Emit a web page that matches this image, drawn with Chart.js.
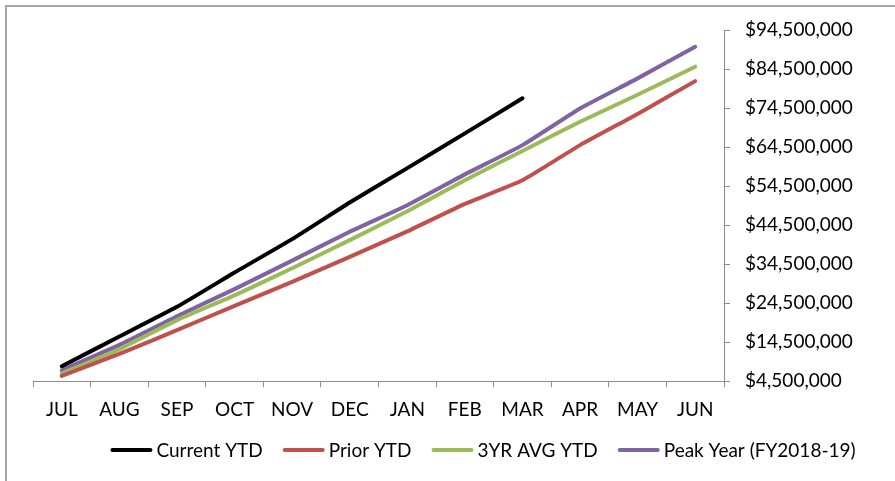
<!DOCTYPE html>
<html>
<head>
<meta charset="utf-8">
<script src="https://cdn.jsdelivr.net/npm/chart.js@4/dist/chart.umd.min.js"></script>
<style>
  html, body { margin: 0; padding: 0; background: #fff; overflow: hidden; }
  #wrap { position: relative; width: 895px; height: 481px; }
  #frame {
    position: absolute; left: 5px; top: 5px; width: 900px; height: 490px;
    border-left: 2px solid #a6a6a6; border-top: 2px solid #a6a6a6; box-sizing: border-box;
  }
  #c { position: absolute; left: 0; top: 0; }
</style>
</head>
<body>
<div id="wrap">
  <div id="frame"></div>
  <canvas id="c" width="895" height="481"></canvas>
</div>
<script>
// Fiscal-year months
const months = ['JUL', 'AUG', 'SEP', 'OCT', 'NOV', 'DEC', 'JAN', 'FEB', 'MAR', 'APR', 'MAY', 'JUN'];

// Cumulative year-to-date totals (dollars)
const currentYTD = [8350000, 15950000, 23550000, 32350000, 40900000, 50300000, 59100000, 68000000, 77000000];
const priorYTD   = [5850000, 11500000, 17600000, 23800000, 29950000, 36350000, 42900000, 49950000, 56000000, 65000000, 73000000, 81400000];
const avg3yrYTD  = [6450000, 12700000, 20150000, 26500000, 33450000, 40650000, 48050000, 56000000, 63500000, 71000000, 77900000, 85100000];
const peakYear   = [7300000, 13800000, 21150000, 28100000, 35400000, 42800000, 49600000, 57500000, 65000000, 74400000, 82100000, 90200000];

// Value axis ticks
const yTicks = [4500000, 14500000, 24500000, 34500000, 44500000, 54500000, 64500000, 74500000, 84500000, 94500000];

const FONT = 'Lato, "Noto Sans", sans-serif';
const FONT_SIZE = 19;
const AXIS_GREY = '#8c8c8c';

function line(label, data, color) {
  return {
    label, data,
    borderColor: color, backgroundColor: color,
    borderWidth: 4, pointRadius: 0, tension: 0.15,
    borderCapStyle: 'round', borderJoinStyle: 'round', fill: false
  };
}

// Single-row legend under the axis: short thick line sample followed by the series name
const bottomLegend = {
  id: 'bottomLegend',
  afterDraw(chart) {
    const ctx = chart.ctx;
    const sample = 42, gapText = 4, gapItem = 20, y = 450;
    ctx.save();
    ctx.font = FONT_SIZE + 'px ' + FONT;
    ctx.textBaseline = 'middle';
    ctx.textAlign = 'left';
    const items = chart.data.datasets.map(ds => ({
      ds, w: sample + gapText + ctx.measureText(ds.label).width
    }));
    const total = items.reduce((s, it) => s + it.w, 0) + gapItem * (items.length - 1);
    let x = 483 - total / 2;
    items.forEach(({ ds, w }) => {
      ctx.strokeStyle = ds.borderColor;
      ctx.lineWidth = 4;
      ctx.lineCap = 'round';
      ctx.beginPath();
      ctx.moveTo(x + 2, y);
      ctx.lineTo(x + sample - 2, y);
      ctx.stroke();
      ctx.fillStyle = '#000';
      ctx.fillText(ds.label, x + sample + gapText, y + 1);
      x += w + gapItem;
    });
    ctx.restore();
  }
};

new Chart(document.getElementById('c'), {
  type: 'line',
  data: {
    labels: months,
    datasets: [
      line('Current YTD', currentYTD, '#000000'),
      line('Prior YTD', priorYTD, '#c0504d'),
      line('3YR AVG YTD', avg3yrYTD, '#9bbb59'),
      line('Peak Year (FY2018-19)', peakYear, '#8064a2')
    ]
  },
  plugins: [bottomLegend],
  options: {
    responsive: false,
    animation: false,
    layout: { padding: { left: 33, right: 7, top: 30, bottom: 49 } },
    plugins: {
      tooltip: { enabled: false },
      legend: { display: false }
    },
    scales: {
      x: {
        offset: true,
        grid: { display: true, drawOnChartArea: false, drawTicks: true, tickLength: 6, color: AXIS_GREY, offset: true },
        border: { display: true, color: AXIS_GREY, width: 1 },
        ticks: { font: { family: FONT, size: FONT_SIZE }, color: '#000', padding: 11, maxRotation: 0, autoSkip: false }
      },
      y: {
        position: 'right',
        min: yTicks[0],
        max: yTicks[yTicks.length - 1],
        afterBuildTicks: scale => { scale.ticks = yTicks.map(v => ({ value: v })); },
        afterFit: scale => { scale.width = 164; },
        grid: { display: true, drawOnChartArea: false, drawTicks: true, tickLength: 6, color: AXIS_GREY },
        border: { display: true, color: AXIS_GREY, width: 1 },
        ticks: {
          font: { family: FONT, size: FONT_SIZE }, color: '#000', padding: 15,
          callback: v => '$' + Number(v).toLocaleString('en-US')
        }
      }
    }
  }
});
</script>
</body>
</html>
